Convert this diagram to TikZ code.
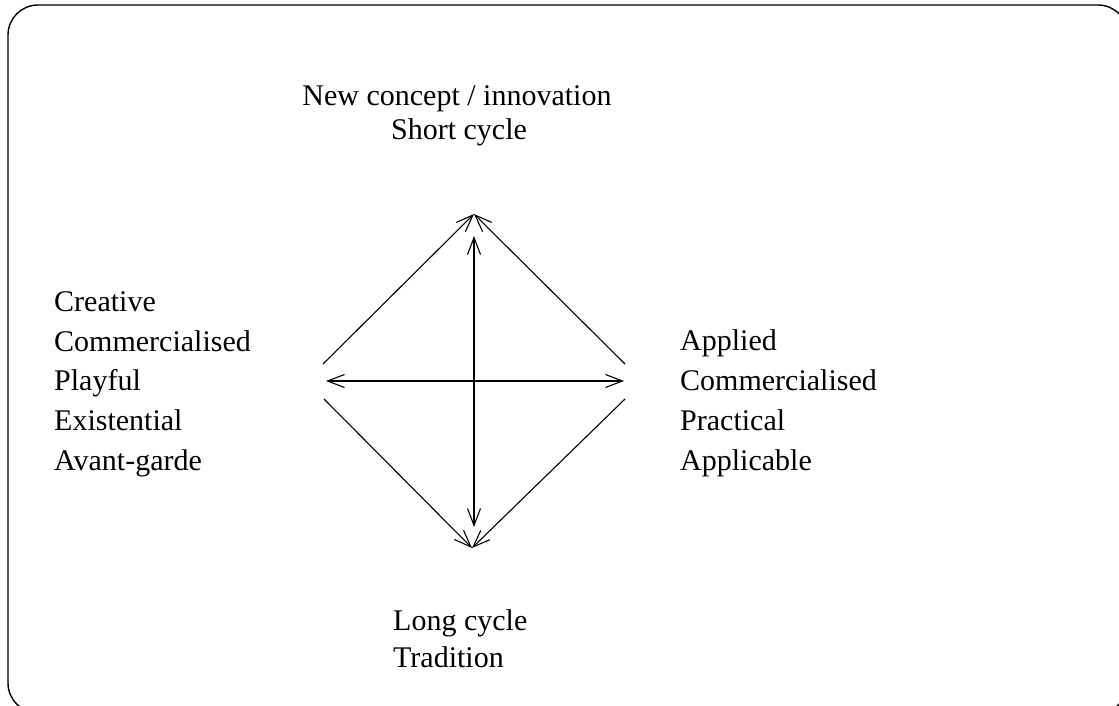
\documentclass[tikz,border=0pt]{standalone}
\usepackage{fontspec}
\setmainfont{Liberation Serif}
\usetikzlibrary{arrows.meta}
\begin{document}
\begin{tikzpicture}[x=1pt,y=-1pt,
  lbl/.style={inner sep=0pt, anchor=base west, font=\fontsize{30}{40}\selectfont},
  lblc/.style={inner sep=0pt, anchor=base, font=\fontsize{30}{40}\selectfont},
  tip/.style={Straight Barb[length=17pt,width=13pt,line width=1.1pt]},
  link/.style={line width=1.1pt, -{Straight Barb[length=17pt,width=13pt,line width=1.1pt]}},
  duo/.style={line width=1.1pt, {Straight Barb[length=17pt,width=13pt,line width=1.1pt]}-{Straight Barb[length=17pt,width=13pt,line width=1.1pt]}}]
\useasboundingbox (0,0) rectangle (1119,706);
\clip (0,0) rectangle (1119,706);
% outer frame
\draw[line width=1.4pt, rounded corners=30pt] (8,5) rectangle (1128,713);

% diamond corners
\coordinate (top) at (474,214);
\coordinate (bot) at (472,548);
\coordinate (lu) at (323,364);
\coordinate (ru) at (625,364);
\coordinate (ll) at (324,399);
\coordinate (rl) at (625,399);
\coordinate (vt) at (474,236);
\coordinate (vb) at (474,527);
\coordinate (hl) at (326,381);
\coordinate (hr) at (624,381);

\draw[link] (lu) -- (top);
\draw[link] (ru) -- (top);
\draw[link] (ll) -- (bot);
\draw[link] (rl) -- (bot);
\draw[duo] (vb) -- (vt);
\draw[duo] (hl) -- (hr);

% top labels
\node[lblc] (t1) at (457,106) {New concept / innovation};
\node[lblc] (t2) at (459,140) {Short cycle};

% left labels
\node[lbl] (a1) at (54,311) {Creative};
\node[lbl] (a2) at (54,351) {Commercialised};
\node[lbl] (a3) at (54,390) {Playful};
\node[lbl] (a4) at (54,430) {Existential};
\node[lbl] (a5) at (54,470) {Avant-garde};

% right labels
\node[lbl] (b1) at (680,350) {Applied};
\node[lbl] (b2) at (680,390) {Commercialised};
\node[lbl] (b3) at (680,430) {Practical};
\node[lbl] (b4) at (680,470) {Applicable};

% bottom labels
\node[lbl] (c1) at (393,630) {Long cycle};
\node[lbl] (c2) at (393,667) {Tradition};
\end{tikzpicture}
\end{document}
